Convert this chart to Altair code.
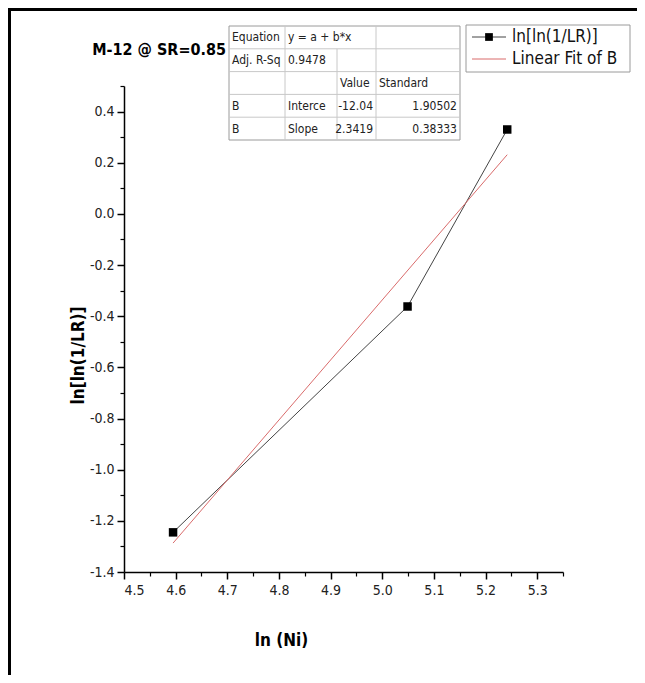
import altair as alt
import pandas as pd

# ---------------- data ----------------
ln_ni = [4.595, 5.049, 5.242]
ln_ln_inv_lr = [-1.245, -0.362, 0.330]
series_names = ["ln[ln(1/LR)]", "Linear Fit of B"]
chart_title = "M-12 @ SR=0.85"
x_title = "ln (Ni)"
y_title = "ln[ln(1/LR)]"
x_major = [4.5, 4.6, 4.7, 4.8, 4.9, 5.0, 5.1, 5.2, 5.3]
x_minor = [4.55, 4.65, 4.75, 4.85, 4.95, 5.05, 5.15, 5.25, 5.35]
y_major = [-1.4, -1.2, -1.0, -0.8, -0.6, -0.4, -0.2, 0.0, 0.2, 0.4]
y_minor = [-1.3, -1.1, -0.9, -0.7, -0.5, -0.3, -0.1, 0.1, 0.3, 0.5]
table_rows = [
    ["Equation", "y = a + b*x", "", ""],
    ["Adj. R-Sq", "0.9478", "", ""],
    ["", "", "Value", "Standard"],
    ["B", "Interce", "-12.04", "1.90502"],
    ["B", "Slope", "2.3419", "0.38333"],
]

# ---------------- layout (pixels, relative to plot origin) ----------------
W, H = 439, 486
PAD_L, PAD_T = 116, 78
FONT = "Liberation Sans Narrow, Arial Narrow, DejaVu Sans Condensed, Liberation Sans, Arial, sans-serif"
HYPHEN_LABEL = "(datum.value < 0 ? '-' : '') + format(abs(datum.value), '.1f')"

df = pd.DataFrame({"x": ln_ni, "y": ln_ln_inv_lr})
xs = alt.Scale(domain=[4.5, 5.35], nice=False, zero=False)
ys = alt.Scale(domain=[-1.4, 0.5], nice=False, zero=False)

x_major_axis = alt.Axis(
    values=x_major, labelExpr=HYPHEN_LABEL, title=x_title, orient="bottom",
    tickSize=7, tickWidth=1.5, tickColor="black", domainColor="black", domainWidth=1.5,
    labelFontSize=14, labelColor="#222", labelFont=FONT, labelPadding=4,
    titleFont=FONT, titleFontSize=17, titleFontWeight="bold", titleColor="black",
    titleX=157, titleY=68, titleBaseline="middle", titleAlign="center", titleAnchor="start",
    grid=False,
)
y_major_axis = alt.Axis(
    values=y_major, labelExpr=HYPHEN_LABEL, title=y_title, orient="left",
    tickSize=7, tickWidth=1.5, tickColor="black", domainColor="black", domainWidth=1.5,
    labelFontSize=14, labelColor="#222", labelFont=FONT, labelPadding=3,
    titleFont=FONT, titleFontSize=17, titleFontWeight="bold", titleColor="black",
    titleX=-46, titleY=269, titleBaseline="middle", titleAlign="center", titleAngle=270,
    titleAnchor="start",
    grid=False,
)
x_minor_axis = alt.Axis(values=x_minor, labels=False, title=None, orient="bottom",
                        tickSize=4, tickWidth=1.2, tickColor="black", domain=False, grid=False)
y_minor_axis = alt.Axis(values=y_minor, labels=False, title=None, orient="left",
                        tickSize=4, tickWidth=1.2, tickColor="black", domain=False, grid=False)

line = alt.Chart(df).mark_line(color="#444", strokeWidth=1).encode(
    x=alt.X("x:Q", scale=xs, axis=x_major_axis),
    y=alt.Y("y:Q", scale=ys, axis=y_major_axis),
)
minor = alt.Chart(df).mark_point(opacity=0).encode(
    x=alt.X("x:Q", scale=xs, axis=x_minor_axis),
    y=alt.Y("y:Q", scale=ys, axis=y_minor_axis),
)
fit = alt.Chart(df).transform_regression("x", "y").mark_line(
    color="#d96b6b", strokeWidth=1).encode(
    x=alt.X("x:Q", scale=xs, axis=None), y=alt.Y("y:Q", scale=ys, axis=None))
points = alt.Chart(df).mark_square(size=72, color="black", opacity=1).encode(
    x=alt.X("x:Q", scale=xs, axis=None), y=alt.Y("y:Q", scale=ys, axis=None))

layers = [line, fit, points]

anchor = alt.Chart(pd.DataFrame({"a": [0]}))

# chart title
layers.append(anchor.mark_text(font=FONT, fontSize=16, fontWeight="bold", color="black",
                               align="right", baseline="middle").encode(
    x=alt.value(226 - 124), y=alt.value(50 - 86), text=alt.value(chart_title)))

# table
col_edges = [229, 285, 337, 376, 460]
row_top, row_h = 26, 22.8
cx = [c - 124 for c in col_edges]
ry = [row_top - 86 + i * row_h for i in range(len(table_rows) + 1)]
grid_color = "#c8c8c8"
layers.append(anchor.mark_rect(fill="white", stroke="#9a9a9a", strokeWidth=1).encode(
    x=alt.value(cx[0]), x2=alt.value(cx[-1]), y=alt.value(ry[0]), y2=alt.value(ry[-1])))
for i in range(1, len(table_rows)):
    layers.append(anchor.mark_rule(color=grid_color, strokeWidth=1).encode(
        x=alt.value(cx[0]), x2=alt.value(cx[-1]), y=alt.value(ry[i])))
for j in range(1, 4):
    start = ry[1] if j == 2 else ry[0]
    layers.append(anchor.mark_rule(color=grid_color, strokeWidth=1).encode(
        x=alt.value(cx[j]), y=alt.value(start), y2=alt.value(ry[-1])))
for i, row in enumerate(table_rows):
    for j, txt in enumerate(row):
        if not txt:
            continue
        numeric = j >= 2 and txt not in ("Value", "Standard")
        if numeric:
            xpos, al = cx[j + 1] - 3, "right"
        else:
            xpos, al = cx[j] + 3, "left"
        layers.append(anchor.mark_text(font=FONT, fontSize=12, color="#222", align=al,
                                       baseline="middle").encode(
            x=alt.value(xpos), y=alt.value(ry[i] + row_h / 2), text=alt.value(txt)))

# legend
lx0, lx1, ly0, ly1 = 466 - 124, 630 - 124, 25 - 86, 72 - 86
layers.append(anchor.mark_rect(fill="white", stroke="#9a9a9a", strokeWidth=1).encode(
    x=alt.value(lx0), x2=alt.value(lx1), y=alt.value(ly0), y2=alt.value(ly1)))
row_y = [ly0 + 12, ly0 + 34]
layers.append(anchor.mark_rule(color="#444", strokeWidth=1).encode(
    x=alt.value(lx0 + 6), x2=alt.value(lx0 + 40), y=alt.value(row_y[0])))
layers.append(anchor.mark_square(size=60, color="black", opacity=1).encode(
    x=alt.value(lx0 + 23), y=alt.value(row_y[0])))
layers.append(anchor.mark_rule(color="#d96b6b", strokeWidth=1).encode(
    x=alt.value(lx0 + 6), x2=alt.value(lx0 + 40), y=alt.value(row_y[1])))
for k, name in enumerate(series_names):
    layers.append(anchor.mark_text(font=FONT, fontSize=17, color="#111", align="left",
                                   baseline="middle").encode(
        x=alt.value(lx0 + 46), y=alt.value(row_y[k]), text=alt.value(name)))

# outer frame (top and left edges)
layers.append(anchor.mark_rule(color="black", strokeWidth=3).encode(
    x=alt.value(-PAD_L + 1.5), y=alt.value(-PAD_T + 1.5), y2=alt.value(667 - PAD_T)))
layers.append(anchor.mark_rule(color="black", strokeWidth=3).encode(
    x=alt.value(-PAD_L), x2=alt.value(629 - PAD_L), y=alt.value(-PAD_T + 1.5)))

chart = alt.layer(minor, *layers).resolve_axis(x="independent", y="independent").properties(
    width=W, height=H, background="white",
    padding={"left": PAD_L, "top": PAD_T, "right": 629 - PAD_L - W, "bottom": 667 - PAD_T - H},
    autosize=alt.AutoSizeParams(type="none"),
).configure_view(strokeWidth=0, strokeOpacity=0)

chart.save("out.html", embed_options={"renderer": "svg", "actions": False})
